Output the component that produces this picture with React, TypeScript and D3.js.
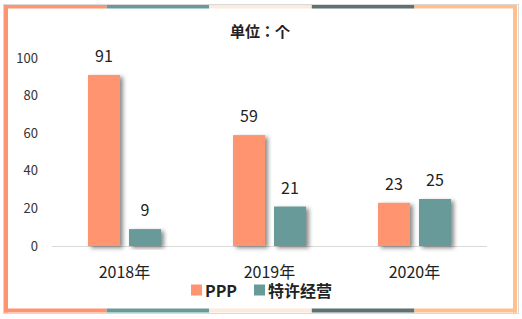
import React from 'react';
import * as d3 from 'd3';

const years = ['2018年', '2019年', '2020年'];
const seriesNames = ['PPP', '特许经营'];
const pppValues = [91, 59, 23];
const concessionValues = [9, 21, 25];
const yTicks = [0, 20, 40, 60, 80, 100];

const colors = ['#FF9470', '#699A9A'];
const frameColors = ['#FF9470', '#699A9A', '#FDE9DD', '#5F7170', '#FFC08E'];

const W = 522;
const H = 319;
const FONT = '"Noto Sans CJK SC", "Noto Sans", sans-serif';

const App: React.FC = () => {
    const plot = { left: 52, right: 487, top: 58, bottom: 246 };

    const x0 = d3.scaleBand<string>()
        .domain(years)
        .range([plot.left, plot.right])
        .paddingInner(0.4966)
        .paddingOuter(0.2483);

    const x1 = d3.scaleBand<string>()
        .domain(seriesNames)
        .range([0, x0.bandwidth()])
        .paddingInner(0.2195);

    const y = d3.scaleLinear().domain([0, 100]).range([plot.bottom, plot.top]);

    const values = [pppValues, concessionValues];

    // frame segments along top and bottom
    const seg = d3.scaleLinear().domain([0, frameColors.length]).range([4, 517]);

    return (
        <svg width={W} height={H} style={{ position: 'absolute', left: 0, top: 0 }}>
            <defs>
                <filter id="barShadow" x="-30%" y="-10%" width="160%" height="130%">
                    <feDropShadow dx={3} dy={2} stdDeviation={2} floodColor="#000" floodOpacity={0.45} />
                </filter>
            </defs>
            <rect x={0} y={0} width={W} height={H} fill="#fff" />
            <rect x={3.5} y={4.5} width={515} height={309} fill="none" stroke="#d9d9d9" />
            {frameColors.map((c, i) => (
                <g key={c}>
                    <rect x={seg(i)} y={5} width={seg(i + 1) - seg(i)} height={3.5} fill={c} />
                    <rect x={seg(i)} y={308.5} width={seg(i + 1) - seg(i)} height={4} fill={c} />
                </g>
            ))}
            <rect x={4} y={5} width={4} height={307.5} fill={frameColors[0]} />
            <rect x={513} y={5} width={4} height={307.5} fill={frameColors[4]} />

            <text x={260} y={37} textAnchor="middle" fontFamily={'"Noto Sans CJK JP", sans-serif'} fontSize={15} fontWeight="bold" fill="#222">
                单位：个
            </text>

            {yTicks.map(t => (
                <text key={t} x={38} y={y(t) + 4.5} textAnchor="end" fontFamily={FONT} fontSize={13} fill="#333">
                    {t}
                </text>
            ))}

            <line x1={plot.left} x2={plot.right} y1={plot.bottom + 0.5} y2={plot.bottom + 0.5} stroke="#d9d9d9" />

            {years.map((yr, i) => (
                <g key={yr} transform={`translate(${x0(yr)},0)`}>
                    {seriesNames.map((s, j) => {
                        const v = values[j][i];
                        const bx = x1(s)!;
                        return (
                            <g key={s}>
                                <rect
                                    x={bx}
                                    y={y(v)}
                                    width={x1.bandwidth()}
                                    height={y(0) - y(v)}
                                    fill={colors[j]}
                                    filter="url(#barShadow)"
                                />
                                <text
                                    x={bx + x1.bandwidth() / 2}
                                    y={y(v) - 13}
                                    textAnchor="middle"
                                    fontFamily={FONT}
                                    fontSize={16}
                                    fill="#222"
                                >
                                    {v}
                                </text>
                            </g>
                        );
                    })}
                    <text
                        x={x0.bandwidth() / 2}
                        y={278}
                        textAnchor="middle"
                        fontFamily={FONT}
                        fontSize={16}
                        fill="#222"
                    >
                        {yr}
                    </text>
                </g>
            ))}

            <g fontFamily={FONT} fontSize={16} fontWeight="bold" fill="#222">
                <rect x={191} y={284.5} width={11} height={11} fill={colors[0]} />
                <text x={205} y={297}>{seriesNames[0]}</text>
                <rect x={254} y={284.5} width={11} height={11} fill={colors[1]} />
                <text x={268} y={297}>{seriesNames[1]}</text>
            </g>
        </svg>
    );
};

export default App;
